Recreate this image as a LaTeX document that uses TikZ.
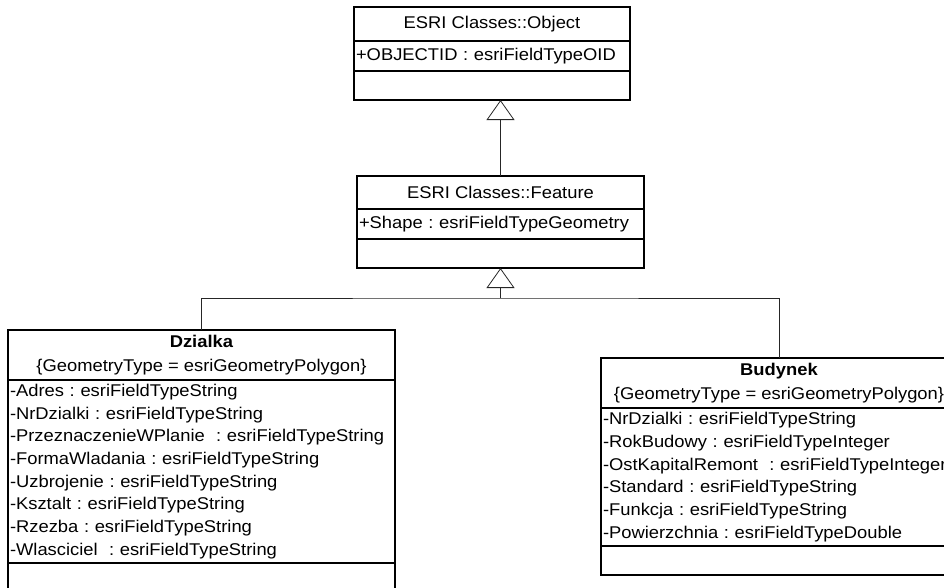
\documentclass[tikz,border=0pt]{standalone}
\usepackage{fontspec}
\setmainfont{Liberation Sans}[FakeStretch=1.08]
\usetikzlibrary{arrows.meta}
\frenchspacing
\begin{document}
\begin{tikzpicture}[x=1pt,y=-1pt,
  comp/.style={draw=black, line width=1.1pt, anchor=north west, inner xsep=2pt,
    inner ysep=0pt, outer sep=0pt, font=\frenchspacing\fontsize{17}{22.7}\selectfont},
  attr/.style={comp, text width=#1, align=left},
  title/.style={comp, align=center, font=\frenchspacing\fontsize{17}{24}\selectfont},
  link/.style={draw=black!85, line width=0.8pt},
  gen/.style={link, -{Triangle[open, length=20pt, width=28pt]}}
]
\useasboundingbox (0,0) rectangle (944,587);

% ESRI Classes::Object
\node[comp, minimum width=276pt, minimum height=34pt] (objN) at (354,7) {ESRI Classes::Object};
\node[attr=272pt, minimum height=30pt] (objA) at (354,41) {\mbox{+OBJECTID : esriFieldTypeOID}};
\node[comp, minimum width=276pt, minimum height=29pt] (objM) at (354,71) {};

% ESRI Classes::Feature
\node[comp, minimum width=287pt, minimum height=33pt] (featN) at (357,176) {ESRI Classes::Feature};
\node[attr=283pt, minimum height=30pt] (featA) at (357,209) {\mbox{+Shape : esriFieldTypeGeometry}};
\node[comp, minimum width=287pt, minimum height=29pt] (featM) at (357,239) {};

% Dzialka
\node[title, minimum width=387pt, minimum height=50pt] (dzN) at (8,330)
  {\textbf{Dzialka}\\\mbox{\{GeometryType = esriGeometryPolygon\}}};
\node[attr=383pt, minimum height=183pt] (dzA) at (8,380)
  {\mbox{-Adres : esriFieldTypeString}\\
   \mbox{-NrDzialki : esriFieldTypeString}\\
   \mbox{-PrzeznaczenieWPlanie\ \ : esriFieldTypeString}\\
   \mbox{-FormaWladania : esriFieldTypeString}\\
   \mbox{-Uzbrojenie : esriFieldTypeString}\\
   \mbox{-Ksztalt : esriFieldTypeString}\\
   \mbox{-Rzezba : esriFieldTypeString}\\
   \mbox{-Wlasciciel\ \ : esriFieldTypeString}};
\node[comp, minimum width=387pt, minimum height=60pt] (dzM) at (8,563) {};

% Budynek
\node[title, minimum width=356pt, minimum height=50pt] (buN) at (601,358)
  {\textbf{Budynek}\\\mbox{\{GeometryType = esriGeometryPolygon\}}};
\node[attr=352pt, minimum height=138pt] (buA) at (601,408)
  {\mbox{-NrDzialki : esriFieldTypeString}\\
   \mbox{-RokBudowy : esriFieldTypeInteger}\\
   \mbox{-OstKapitalRemont\ \ : esriFieldTypeInteger}\\
   \mbox{-Standard : esriFieldTypeString}\\
   \mbox{-Funkcja : esriFieldTypeString}\\
   \mbox{-Powierzchnia : esriFieldTypeDouble}};
\node[comp, minimum width=356pt, minimum height=29pt] (buM) at (601,546) {};

% generalizations
\draw[gen] (featN.north) -- (featN.north |- objM.south);
\coordinate (j) at (featM.south |- 0,298);
\draw[gen] (j) -- (featM.south);
\draw[link] (dzN.north) |- (j) -| (buN.north);
\end{tikzpicture}
\end{document}
